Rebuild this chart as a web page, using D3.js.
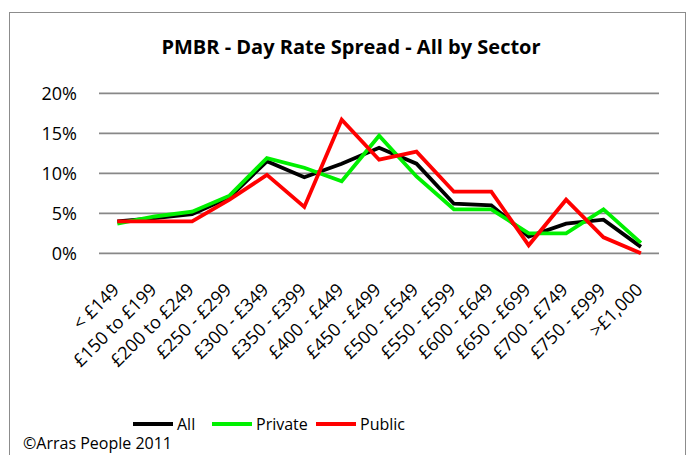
<!DOCTYPE html>
<html>
<head>
<meta charset="utf-8">
<script src="https://cdn.jsdelivr.net/npm/d3@7"></script>
<style>
  body { margin: 0; background: #fff; }
  text { font-family: "Open Sans", "Noto Sans", sans-serif; fill: #000; }
</style>
</head>
<body>
<svg width="694" height="455"></svg>
<script>
// day rate bands
const categories = ["< £149", "£150 to £199", "£200 to £249", "£250 - £299", "£300 - £349",
    "£350 - £399", "£400 - £449", "£450 - £499", "£500 - £549", "£550 - £599",
    "£600 - £649", "£650 - £699", "£700 - £749", "£750 - £999", ">£1,000"];

// percentages per band
const allValues = [4.0, 4.4, 4.9, 7.0, 11.5, 9.5, 11.2, 13.2, 11.2, 6.2, 6.0, 2.1, 3.7, 4.2, 0.8];
const privateValues = [3.7, 4.6, 5.2, 7.2, 11.9, 10.7, 9.0, 14.7, 9.6, 5.5, 5.5, 2.5, 2.5, 5.5, 1.3];
const publicValues = [4.0, 4.0, 4.0, 6.7, 9.8, 5.8, 16.7, 11.7, 12.7, 7.7, 7.7, 1.0, 6.7, 2.0, 0.0];

const yTicks = [0, 5, 10, 15, 20];

const series = [
    { name: "All", values: allValues, color: "#000000" },
    { name: "Private", values: privateValues, color: "#00f000" },
    { name: "Public", values: publicValues, color: "#ff0000" }
];

const svg = d3.select("svg");

// outer frame
svg.append("rect")
    .attr("x", 9.5).attr("y", 12.5)
    .attr("width", 676).attr("height", 460)
    .attr("fill", "none")
    .attr("stroke", "#8c8c8c");

svg.append("text")
    .attr("x", 351).attr("y", 54)
    .attr("text-anchor", "middle")
    .style("font-size", "20px")
    .style("font-weight", "bold")
    .text("PMBR - Day Rate Spread - All by Sector");

const x = d3.scaleBand()
    .domain(categories)
    .range([98.6, 659.6]);

const y = d3.scaleLinear()
    .domain([0, 20])
    .range([253.3, 93.3]);

// gridlines
svg.append("g")
    .selectAll("line")
    .data(yTicks)
    .enter().append("line")
    .attr("x1", 99).attr("x2", 659)
    .attr("y1", d => y(d)).attr("y2", d => y(d))
    .attr("stroke", "#888")
    .attr("stroke-width", 1.8);

// y labels
svg.append("g")
    .selectAll("text")
    .data(yTicks)
    .enter().append("text")
    .attr("x", 77)
    .attr("y", d => y(d))
    .attr("dy", "0.36em")
    .attr("text-anchor", "end")
    .style("font-size", "18px")
    .text(d => d + "%");

// x labels
svg.append("g")
    .selectAll("text")
    .data(categories)
    .enter().append("text")
    .attr("transform", d => "translate(" + (x(d) + x.bandwidth() / 2 + 3) + ",291) rotate(-45)")
    .attr("text-anchor", "end")
    .style("font-size", "18px")
    .text(d => d);

const line = d3.line()
    .x((d, i) => x(categories[i]) + x.bandwidth() / 2)
    .y(d => y(d));

svg.append("g")
    .selectAll("path")
    .data(series)
    .enter().append("path")
    .attr("d", d => line(d.values))
    .attr("fill", "none")
    .attr("stroke", d => d.color)
    .attr("stroke-width", 3.8)
    .attr("stroke-linejoin", "miter");

// legend
const legendX = [133, 212, 316];
const legend = svg.append("g")
    .selectAll("g")
    .data(series)
    .enter().append("g")
    .attr("transform", (d, i) => "translate(" + legendX[i] + ",424)");

legend.append("line")
    .attr("x1", 0).attr("x2", 40)
    .attr("stroke", d => d.color)
    .attr("stroke-width", 3.8);

legend.append("text")
    .attr("x", 44)
    .attr("dy", "0.36em")
    .style("font-size", "16px")
    .text(d => d.name);

svg.append("text")
    .attr("x", 23).attr("y", 449)
    .style("font-size", "16px")
    .text("©Arras People 2011");
</script>
</body>
</html>
